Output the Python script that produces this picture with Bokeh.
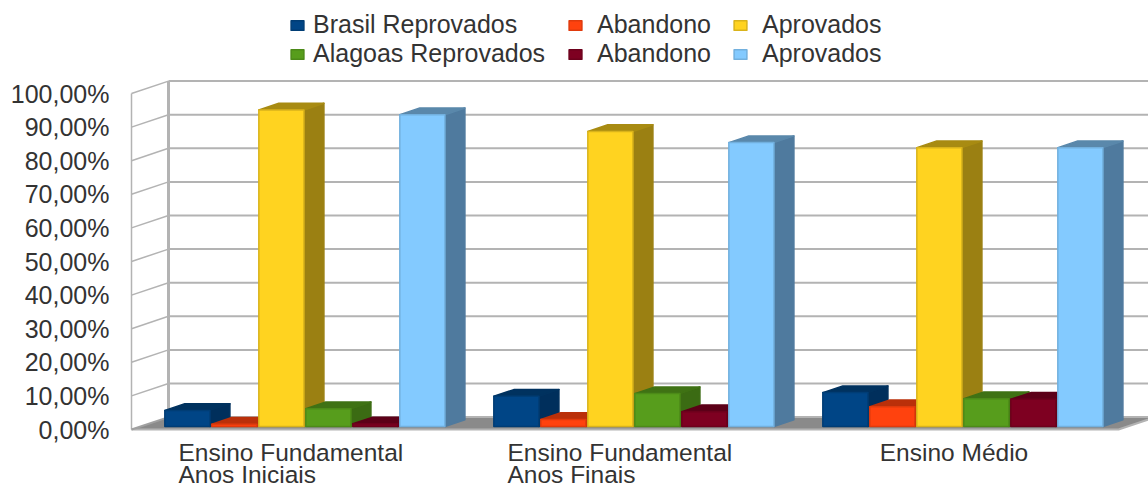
from bokeh.core.properties import value
from bokeh.embed import file_html
from bokeh.models import FixedTicker, Legend, LegendItem, LinearAxis, Range1d
from bokeh.plotting import figure
from bokeh.resources import INLINE

# Stage values, in percent, one list per series
stage_first_lines = ["Ensino Fundamental", "Ensino Fundamental", "Ensino Médio"]
stage_second_lines = ["Anos Iniciais", "Anos Finais"]
brasil_reprovados = [4.8, 9.0, 10.1]
brasil_abandono = [0.7, 2.1, 5.9]
brasil_aprovados = [94.2, 87.8, 83.0]
alagoas_reprovados = [5.3, 9.8, 8.3]
alagoas_abandono = [0.8, 4.4, 8.1]
alagoas_aprovados = [92.8, 84.5, 83.0]

series_names = ["Brasil Reprovados", "Abandono", "Aprovados",
                "Alagoas Reprovados", "Abandono", "Aprovados"]
series_values = [brasil_reprovados, brasil_abandono, brasil_aprovados,
                 alagoas_reprovados, alagoas_abandono, alagoas_aprovados]
front_colors = ["#004586", "#ff420e", "#ffd320", "#579d1c", "#7e0021", "#83caff"]
side_colors = ["#002f5c", "#b22e0a", "#9b8012", "#3b6b13", "#560016", "#4f7a9e"]
top_colors = ["#00325f", "#ba300a", "#a88b12", "#3f7214", "#5c0018", "#5a88ab"]
edge_colors = ["#003d75", "#e03a0c", "#d9b31b", "#4c8a18", "#6d001c", "#72b0de"]
tick_values = list(range(0, 101, 10))
tick_labels = {v: f"{v},00%" for v in tick_values}

# Oblique projection: one unit of depth moves a point this far in data units
DEPTH_X = 37 / 47
DEPTH_Y = 12.4 / 3.36
BAR_NEAR, BAR_FAR = 0.24, 0.78
SLOTS_PER_GROUP = 7
GROUPS = 3
PX_PER_SLOT = 47
PX_PER_PCT = 3.36
LEFT_PAD = 118
AXIS_X_PX = 131
FLOOR_Y_PX = 429
WIDTH, HEIGHT = 1148, 488
FONT_NAME = "Liberation Sans"
FONT_SIZE = "25px"
STAGE_FONT_SIZE = "24.5px"
TEXT_COLOR = "#333333"
GRID = "#b3b3b3"

p = figure(width=WIDTH, height=HEIGHT, output_backend="svg", toolbar_location=None,
           x_axis_type=None, y_axis_type=None, outline_line_color=None,
           min_border_left=LEFT_PAD, min_border_right=0, min_border_top=0, min_border_bottom=0,
           background_fill_color="white", border_fill_color="white")
p.grid.visible = False
p.x_range = Range1d((LEFT_PAD - AXIS_X_PX) / PX_PER_SLOT, (WIDTH - AXIS_X_PX) / PX_PER_SLOT)
p.y_range = Range1d((FLOOR_Y_PX - HEIGHT) / PX_PER_PCT, FLOOR_Y_PX / PX_PER_PCT)

total_slots = SLOTS_PER_GROUP * GROUPS

# Floor
p.patch([0, total_slots, total_slots + DEPTH_X, DEPTH_X], [0, 0, DEPTH_Y, DEPTH_Y],
        fill_color="#8a8a8a", line_color=None)
p.line([0, total_slots, total_slots + DEPTH_X], [0, 0, DEPTH_Y], line_color=GRID, line_width=2)

# Back wall and side wall rules
p.segment(x0=[DEPTH_X] * len(tick_values), y0=[v + DEPTH_Y for v in tick_values],
          x1=[total_slots + DEPTH_X] * len(tick_values), y1=[v + DEPTH_Y for v in tick_values],
          line_color=GRID, line_width=2)
p.segment(x0=[0] * len(tick_values[1:]), y0=tick_values[1:],
          x1=[DEPTH_X] * len(tick_values[1:]), y1=[v + DEPTH_Y for v in tick_values[1:]],
          line_color=GRID, line_width=1.5)
p.segment(x0=[0, DEPTH_X], y0=[0, DEPTH_Y], x1=[0, DEPTH_X], y1=[100, 100 + DEPTH_Y],
          line_color=GRID, line_width=[1.5, 3])
p.segment(x0=[0], y0=[0], x1=[DEPTH_X], y1=[DEPTH_Y], line_color="#a0a0a0", line_width=2)

# Bars: the side and top faces come from each value, the front face is a vbar
front_bars = []
for s, vals in enumerate(series_values):
    lefts = [g * SLOTS_PER_GROUP + 0.5 + s + 0.02 + BAR_NEAR * DEPTH_X for g in range(GROUPS)]
    rights = [x + 0.96 for x in lefts]
    base = BAR_NEAR * DEPTH_Y
    shift_x = (BAR_FAR - BAR_NEAR) * DEPTH_X
    shift_y = (BAR_FAR - BAR_NEAR) * DEPTH_Y
    side_xs = [[r, r + shift_x, r + shift_x, r] for r in rights]
    side_ys = [[base, base + shift_y, base + v + shift_y, base + v] for v in vals]
    top_xs = [[l, l + shift_x, r + shift_x, r] for l, r in zip(lefts, rights)]
    top_ys = [[base + v, base + v + shift_y, base + v + shift_y, base + v] for v in vals]
    p.patches(side_xs, side_ys, fill_color=side_colors[s], line_color=side_colors[s],
              line_width=1.5, line_join="round")
    p.patches(top_xs, top_ys, fill_color=top_colors[s], line_color=top_colors[s],
              line_width=1.5, line_join="round")
    front_bars.append(p.vbar(x=[(l + r) / 2 for l, r in zip(lefts, rights)], width=0.96,
                             bottom=base, top=[base + v for v in vals],
                             fill_color=front_colors[s], line_color=edge_colors[s],
                             line_width=1.5, line_join="round"))

# Percent axis along the front edge of the side wall
y_axis = LinearAxis(ticker=FixedTicker(ticks=tick_values), major_label_overrides=tick_labels,
                    axis_line_color=None, major_tick_line_color=None, minor_tick_line_color=None,
                    major_label_text_font=FONT_NAME, major_label_text_font_size=FONT_SIZE,
                    major_label_text_color=TEXT_COLOR, major_label_standoff=3)
p.add_layout(y_axis, "left")

# Stage names under each group, two lines sharing one left edge
group_centers = [g * SLOTS_PER_GROUP + SLOTS_PER_GROUP / 2 for g in range(GROUPS)]
label_aligns = ["left", "left", "center"]
label_x = [group_centers[0] - 2.5, group_centers[1] - 2.5, group_centers[2]]
first_line_y = [(FLOOR_Y_PX - 452) / PX_PER_PCT] * GROUPS
second_line_y = [(FLOOR_Y_PX - 474) / PX_PER_PCT] * 2
label_style = dict(text_baseline="middle", text_font=value(FONT_NAME),
                   text_font_size=STAGE_FONT_SIZE, text_color=TEXT_COLOR)
p.text(x=label_x, y=first_line_y, text=stage_first_lines, text_align=label_aligns, **label_style)
p.text(x=label_x[:2], y=second_line_y, text=stage_second_lines, text_align="left", **label_style)

# Legend above the chart: one column per pair of series, each with its own spacing
legend_columns = [(289, 8), (567, 14), (732, 14)]
for c, (col_x, standoff) in enumerate(legend_columns):
    rows = [LegendItem(label=series_names[c + r * 3], renderers=[front_bars[c + r * 3]])
            for r in range(2)]
    p.add_layout(Legend(items=rows, location=(col_x - LEFT_PAD, HEIGHT - 68),
                        border_line_color=None, background_fill_alpha=0, padding=0, margin=0,
                        spacing=0, glyph_width=16, glyph_height=12, label_standoff=standoff,
                        label_text_font=FONT_NAME, label_text_font_size=FONT_SIZE,
                        label_text_color=TEXT_COLOR, label_height=24), "center")

open("out.html", "w").write(file_html(p, INLINE))
